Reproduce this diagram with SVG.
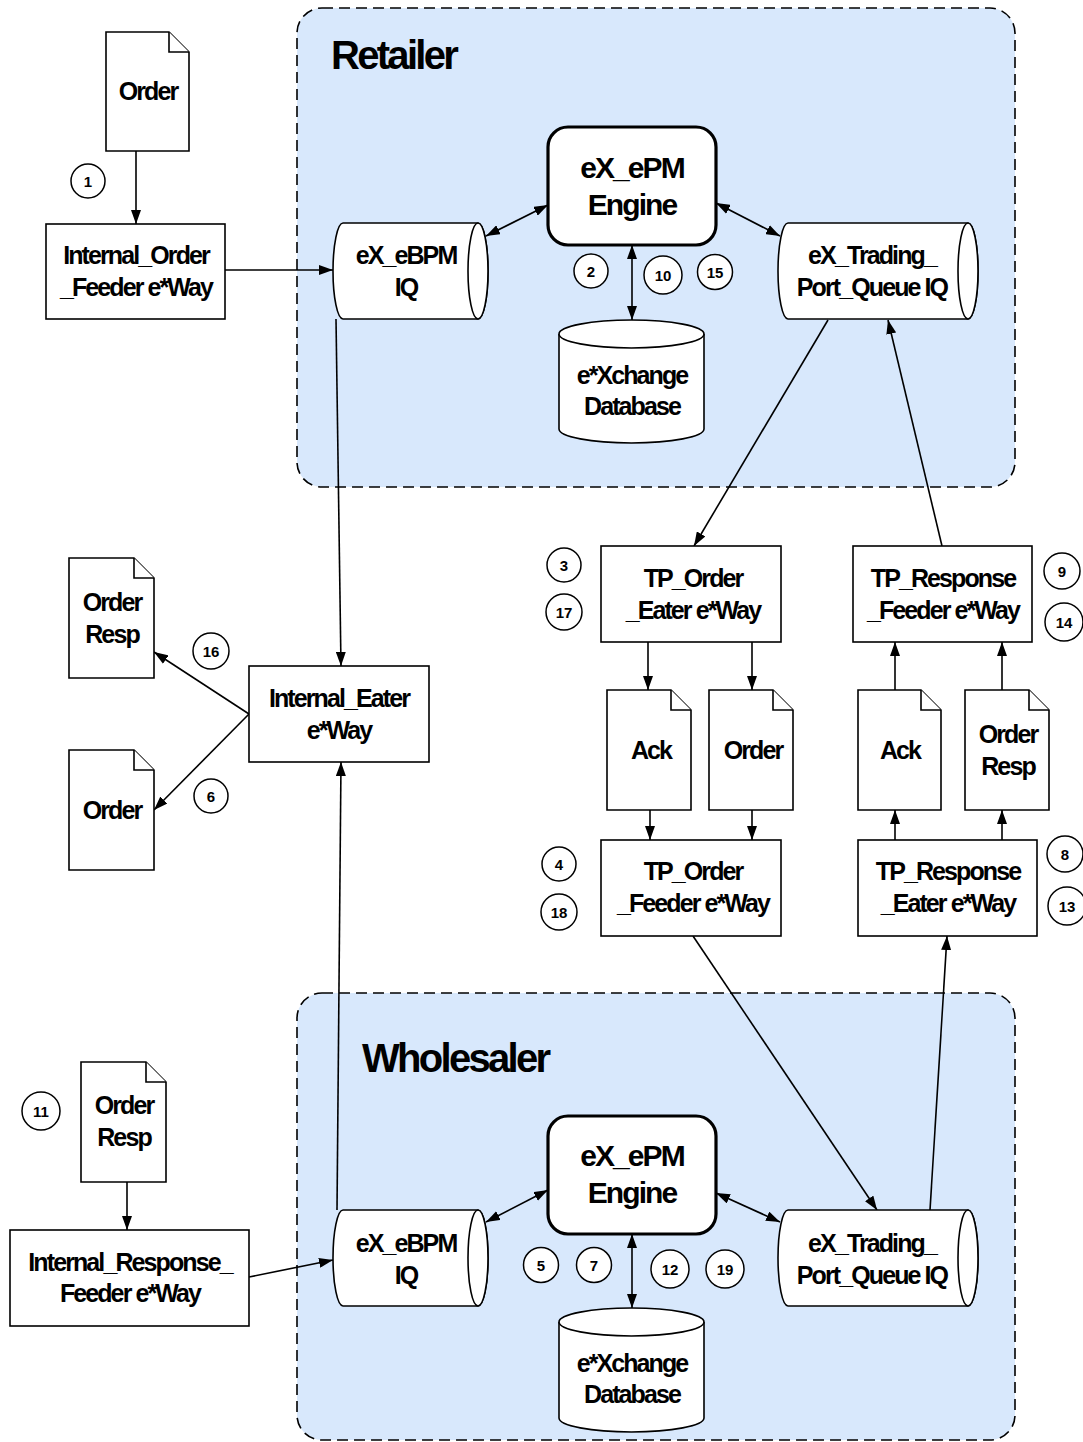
<svg xmlns="http://www.w3.org/2000/svg" width="1083" height="1442" viewBox="0 0 1083 1442">
<defs>
<marker id="ah" viewBox="0 0 14 10" refX="14" refY="5" markerWidth="14" markerHeight="10" markerUnits="userSpaceOnUse" orient="auto-start-reverse">
<path d="M0,0 L14,5 L0,10 Z" fill="#000"/>
</marker>
</defs>
<style>
.zone{fill:#d8e8fc;stroke:#000;stroke-width:1.6;stroke-dasharray:11,6}
.shape{fill:#fff;stroke:#000;stroke-width:1.6}
.eng{fill:#fff;stroke:#000;stroke-width:3.2}
.t{font-family:"Liberation Sans",Arial,sans-serif;font-weight:bold;font-size:25px;letter-spacing:-1.9px;text-anchor:middle;fill:#000}
.te{font-family:"Liberation Sans",Arial,sans-serif;font-weight:bold;font-size:30px;letter-spacing:-1.9px;text-anchor:middle;fill:#000}
.title{font-family:"Liberation Sans",Arial,sans-serif;font-weight:bold;font-size:40px;letter-spacing:-2.7px;fill:#000}
.c{fill:#fff;stroke:#000;stroke-width:1.5}
.ct{font-family:"Liberation Sans",Arial,sans-serif;font-weight:bold;font-size:15px;text-anchor:middle;fill:#000}
.ln{fill:none;stroke:#000;stroke-width:1.6}
.a{marker-end:url(#ah)}
.aa{marker-start:url(#ah);marker-end:url(#ah)}
</style>

<g id="zones">
<rect id="retailer-zone" class="zone" x="297" y="8" width="718" height="479" rx="25"/>
<text class="title" x="331" y="69">Retailer</text>
<rect id="wholesaler-zone" class="zone" x="297" y="993" width="718" height="447" rx="25"/>
<text class="title" x="362" y="1072">Wholesaler</text>
</g>

<g id="connectors">
<line class="ln a" x1="136" y1="151" x2="136" y2="224"/>
<line class="ln a" x1="225" y1="270" x2="333" y2="270"/>
<line class="ln aa" x1="486" y1="236" x2="548" y2="205"/>
<line class="ln aa" x1="632" y1="245" x2="632" y2="320"/>
<line class="ln aa" x1="716" y1="203" x2="780" y2="236"/>
<line class="ln a" x1="828" y1="320" x2="694" y2="546"/>
<line class="ln a" x1="942" y1="546" x2="888" y2="320"/>
<line class="ln a" x1="336" y1="319" x2="341" y2="666"/>
<line class="ln a" x1="249" y1="714" x2="154" y2="652"/>
<line class="ln a" x1="249" y1="714" x2="154" y2="810"/>
<line class="ln a" x1="337" y1="1210" x2="341" y2="762"/>
<line class="ln a" x1="648" y1="642" x2="648" y2="690"/>
<line class="ln a" x1="752" y1="642" x2="752" y2="690"/>
<line class="ln a" x1="650" y1="810" x2="650" y2="840"/>
<line class="ln a" x1="752" y1="810" x2="752" y2="840"/>
<line class="ln a" x1="895" y1="690" x2="895" y2="642"/>
<line class="ln a" x1="1002" y1="690" x2="1002" y2="642"/>
<line class="ln a" x1="895" y1="840" x2="895" y2="810"/>
<line class="ln a" x1="1002" y1="840" x2="1002" y2="810"/>
<line class="ln a" x1="127" y1="1182" x2="127" y2="1230"/>
<line class="ln a" x1="249" y1="1277" x2="333" y2="1260"/>
<line class="ln a" x1="693" y1="936" x2="877" y2="1210"/>
<line class="ln a" x1="930" y1="1210" x2="947" y2="936"/>
<line class="ln aa" x1="486" y1="1222" x2="548" y2="1190"/>
<line class="ln aa" x1="632" y1="1234" x2="632" y2="1308"/>
<line class="ln aa" x1="716" y1="1193" x2="780" y2="1222"/>
</g>

<g id="order-doc-top">
<path class="shape" d="M106,32 L169,32 L189,52 L189,151 L106,151 Z"/>
<path class="shape" d="M169,32 L169,52 L189,52" fill="none"/>
<text class="t" x="148" y="100">Order</text>
</g>
<g id="step-1"><circle class="c" cx="88" cy="181" r="17"/><text class="ct" x="88" y="186.5">1</text></g>

<g id="internal-order-feeder">
<rect class="shape" x="46" y="224" width="179" height="95"/>
<text class="t" x="136" y="264">Internal_Order</text>
<text class="t" x="136" y="296">_Feeder e*Way</text>
</g>

<g id="retailer-ebpm-iq">
<path class="shape" d="M343,223 L478,223 A10,48 0 0 1 478,319 L343,319 A10,48 0 0 1 343,223 Z"/>
<ellipse class="shape" cx="478" cy="271" rx="10" ry="48"/>
<text class="t" x="406" y="264">eX_eBPM</text>
<text class="t" x="406" y="296">IQ</text>
</g>

<g id="retailer-engine">
<rect class="eng" x="548" y="127" width="168" height="118" rx="20"/>
<text class="te" x="632" y="178">eX_ePM</text>
<text class="te" x="632" y="215">Engine</text>
</g>

<g id="retailer-database">
<path class="shape" d="M559,334 A72.5,14 0 0 1 704,334 L704,429 A72.5,14 0 0 1 559,429 Z"/>
<path class="shape" d="M559,334 A72.5,14 0 0 0 704,334" fill="none"/>
<text class="t" x="632" y="384">e*Xchange</text>
<text class="t" x="632" y="415">Database</text>
</g>

<g id="retailer-tp-iq">
<path class="shape" d="M788,223 L968,223 A10,48 0 0 1 968,319 L788,319 A10,48 0 0 1 788,223 Z"/>
<ellipse class="shape" cx="968" cy="271" rx="10" ry="48"/>
<text class="t" x="872" y="264">eX_Trading_</text>
<text class="t" x="872" y="296">Port_Queue IQ</text>
</g>

<g id="step-2"><circle class="c" cx="591" cy="271" r="17"/><text class="ct" x="591" y="276.5">2</text></g>
<g id="step-10"><circle class="c" cx="663" cy="275" r="19"/><text class="ct" x="663" y="280.5">10</text></g>
<g id="step-15"><circle class="c" cx="715" cy="272" r="17.5"/><text class="ct" x="715" y="277.5">15</text></g>

<g id="order-resp-doc-left">
<path class="shape" d="M69,558 L134,558 L154,578 L154,678 L69,678 Z"/>
<path class="shape" d="M134,558 L134,578 L154,578" fill="none"/>
<text class="t" x="112" y="611">Order</text>
<text class="t" x="112" y="643">Resp</text>
</g>
<g id="order-doc-left">
<path class="shape" d="M69,750 L134,750 L154,770 L154,870 L69,870 Z"/>
<path class="shape" d="M134,750 L134,770 L154,770" fill="none"/>
<text class="t" x="112" y="819">Order</text>
</g>
<g id="step-16"><circle class="c" cx="211" cy="651" r="18"/><text class="ct" x="211" y="656.5">16</text></g>
<g id="step-6"><circle class="c" cx="211" cy="796" r="17"/><text class="ct" x="211" y="801.5">6</text></g>

<g id="internal-eater">
<rect class="shape" x="249" y="666" width="180" height="96"/>
<text class="t" x="339" y="707">Internal_Eater</text>
<text class="t" x="339" y="739">e*Way</text>
</g>

<g id="tp-order-eater">
<rect class="shape" x="601" y="546" width="180" height="96"/>
<text class="t" x="693" y="587">TP_Order</text>
<text class="t" x="693" y="619">_Eater e*Way</text>
</g>
<g id="step-3"><circle class="c" cx="564" cy="565" r="17"/><text class="ct" x="564" y="570.5">3</text></g>
<g id="step-17"><circle class="c" cx="564" cy="612" r="18"/><text class="ct" x="564" y="617.5">17</text></g>

<g id="tp-response-feeder">
<rect class="shape" x="853" y="546" width="179" height="96"/>
<text class="t" x="943" y="587">TP_Response</text>
<text class="t" x="943" y="619">_Feeder e*Way</text>
</g>
<g id="step-9"><circle class="c" cx="1062" cy="571" r="18"/><text class="ct" x="1062" y="576.5">9</text></g>
<g id="step-14"><circle class="c" cx="1064" cy="622" r="19"/><text class="ct" x="1064" y="627.5">14</text></g>

<g id="ack-doc-1">
<path class="shape" d="M607,690 L671,690 L691,710 L691,810 L607,810 Z"/>
<path class="shape" d="M671,690 L671,710 L691,710" fill="none"/>
<text class="t" x="651" y="759">Ack</text>
</g>
<g id="order-doc-mid">
<path class="shape" d="M709,690 L773,690 L793,710 L793,810 L709,810 Z"/>
<path class="shape" d="M773,690 L773,710 L793,710" fill="none"/>
<text class="t" x="753" y="759">Order</text>
</g>
<g id="ack-doc-2">
<path class="shape" d="M858,690 L921,690 L941,710 L941,810 L858,810 Z"/>
<path class="shape" d="M921,690 L921,710 L941,710" fill="none"/>
<text class="t" x="900" y="759">Ack</text>
</g>
<g id="order-resp-doc-mid">
<path class="shape" d="M965,690 L1029,690 L1049,710 L1049,810 L965,810 Z"/>
<path class="shape" d="M1029,690 L1029,710 L1049,710" fill="none"/>
<text class="t" x="1008" y="743">Order</text>
<text class="t" x="1008" y="775">Resp</text>
</g>

<g id="tp-order-feeder">
<rect class="shape" x="601" y="840" width="180" height="96"/>
<text class="t" x="693" y="880">TP_Order</text>
<text class="t" x="693" y="912">_Feeder e*Way</text>
</g>
<g id="step-4"><circle class="c" cx="559" cy="864" r="17"/><text class="ct" x="559" y="869.5">4</text></g>
<g id="step-18"><circle class="c" cx="559" cy="912" r="18"/><text class="ct" x="559" y="917.5">18</text></g>

<g id="tp-response-eater">
<rect class="shape" x="858" y="840" width="179" height="96"/>
<text class="t" x="948" y="880">TP_Response</text>
<text class="t" x="948" y="912">_Eater e*Way</text>
</g>
<g id="step-8"><circle class="c" cx="1065" cy="854" r="18"/><text class="ct" x="1065" y="859.5">8</text></g>
<g id="step-13"><circle class="c" cx="1067" cy="906" r="19"/><text class="ct" x="1067" y="911.5">13</text></g>

<g id="order-resp-doc-bottom">
<path class="shape" d="M81,1062 L146,1062 L166,1082 L166,1182 L81,1182 Z"/>
<path class="shape" d="M146,1062 L146,1082 L166,1082" fill="none"/>
<text class="t" x="124" y="1114">Order</text>
<text class="t" x="124" y="1146">Resp</text>
</g>
<g id="step-11"><circle class="c" cx="41" cy="1111" r="19"/><text class="ct" x="41" y="1116.5">11</text></g>

<g id="internal-response-feeder">
<rect class="shape" x="10" y="1230" width="239" height="96"/>
<text class="t" x="130" y="1271">Internal_Response_</text>
<text class="t" x="130" y="1302">Feeder e*Way</text>
</g>

<g id="wholesaler-ebpm-iq">
<path class="shape" d="M343,1210 L478,1210 A10,48 0 0 1 478,1306 L343,1306 A10,48 0 0 1 343,1210 Z"/>
<ellipse class="shape" cx="478" cy="1258" rx="10" ry="48"/>
<text class="t" x="406" y="1252">eX_eBPM</text>
<text class="t" x="406" y="1284">IQ</text>
</g>

<g id="wholesaler-engine">
<rect class="eng" x="548" y="1116" width="168" height="118" rx="20"/>
<text class="te" x="632" y="1166">eX_ePM</text>
<text class="te" x="632" y="1203">Engine</text>
</g>

<g id="wholesaler-database">
<path class="shape" d="M559,1322 A72.5,14 0 0 1 704,1322 L704,1418 A72.5,14 0 0 1 559,1418 Z"/>
<path class="shape" d="M559,1322 A72.5,14 0 0 0 704,1322" fill="none"/>
<text class="t" x="632" y="1372">e*Xchange</text>
<text class="t" x="632" y="1403">Database</text>
</g>

<g id="wholesaler-tp-iq">
<path class="shape" d="M788,1210 L968,1210 A10,48 0 0 1 968,1306 L788,1306 A10,48 0 0 1 788,1210 Z"/>
<ellipse class="shape" cx="968" cy="1258" rx="10" ry="48"/>
<text class="t" x="872" y="1252">eX_Trading_</text>
<text class="t" x="872" y="1284">Port_Queue IQ</text>
</g>

<g id="step-5"><circle class="c" cx="541" cy="1265" r="17.5"/><text class="ct" x="541" y="1270.5">5</text></g>
<g id="step-7"><circle class="c" cx="594" cy="1265" r="17.5"/><text class="ct" x="594" y="1270.5">7</text></g>
<g id="step-12"><circle class="c" cx="670" cy="1269" r="19"/><text class="ct" x="670" y="1274.5">12</text></g>
<g id="step-19"><circle class="c" cx="725" cy="1269" r="19"/><text class="ct" x="725" y="1274.5">19</text></g>
</svg>
